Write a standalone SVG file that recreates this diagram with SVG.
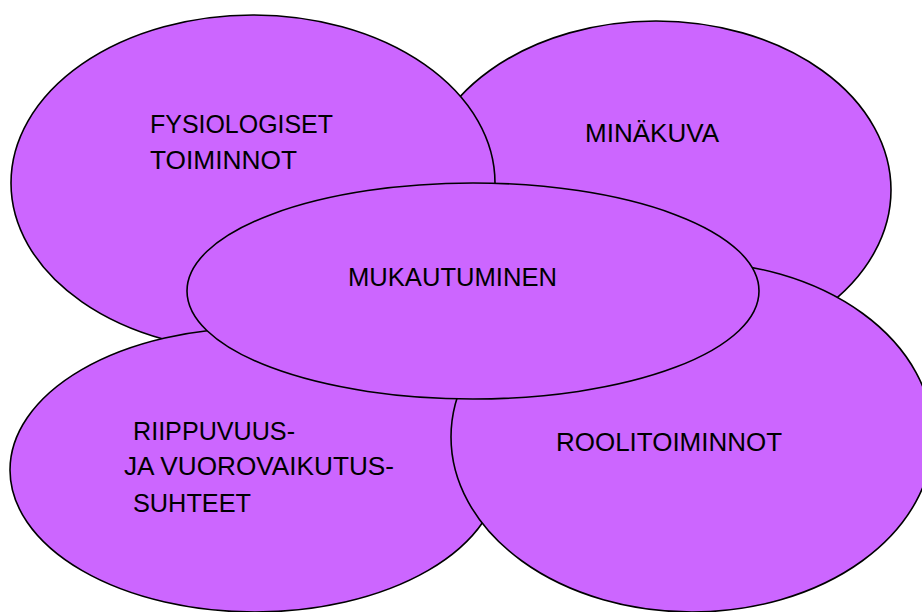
<svg xmlns="http://www.w3.org/2000/svg" width="922" height="612" viewBox="0 0 922 612">
<style>
.e{fill:#CC66FF;stroke:#000;stroke-width:1.6}
.t{font-family:"Liberation Sans",Arial,sans-serif;font-size:26px;fill:#000}
</style>
<rect width="922" height="612" fill="#fff"/>
<g id="minakuva"><ellipse class="e" cx="656" cy="190" rx="235" ry="169"/><text class="t" x="585" y="142" textLength="134" lengthAdjust="spacingAndGlyphs">MINÄKUVA</text></g>
<g id="fysiologiset"><ellipse class="e" cx="253" cy="183" rx="242" ry="168"/><text class="t" x="150" y="133" textLength="183" lengthAdjust="spacingAndGlyphs">FYSIOLOGISET</text><text class="t" x="150" y="169" textLength="147" lengthAdjust="spacingAndGlyphs">TOIMINNOT</text></g>
<g id="riippuvuus"><ellipse class="e" cx="255" cy="470" rx="245" ry="142"/><text class="t" x="133" y="440" textLength="162" lengthAdjust="spacingAndGlyphs">RIIPPUVUUS-</text><text class="t" x="124" y="475" textLength="270" lengthAdjust="spacingAndGlyphs">JA VUOROVAIKUTUS-</text><text class="t" x="133" y="512" textLength="118" lengthAdjust="spacingAndGlyphs">SUHTEET</text></g>
<g id="roolitoiminnot"><ellipse class="e" cx="692" cy="437" rx="241" ry="175"/><text class="t" x="556" y="451" textLength="226" lengthAdjust="spacingAndGlyphs">ROOLITOIMINNOT</text></g>
<g id="mukautuminen"><ellipse class="e" cx="473" cy="291" rx="286" ry="108"/><text class="t" x="348" y="286" textLength="209" lengthAdjust="spacingAndGlyphs">MUKAUTUMINEN</text></g>
<g id="connectors"/>
</svg>
